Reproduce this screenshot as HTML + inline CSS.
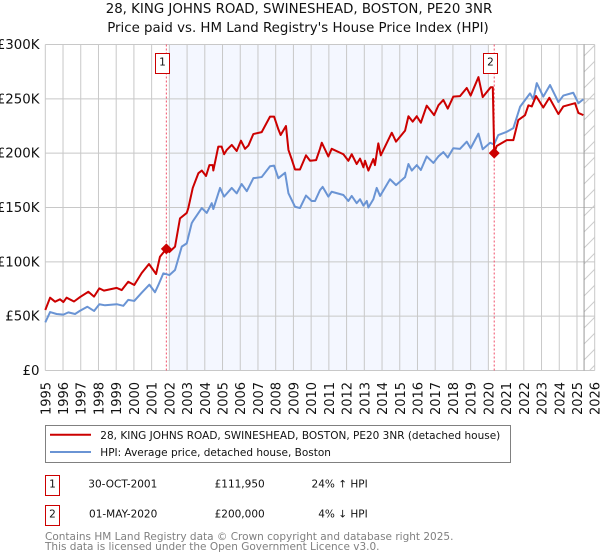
<!DOCTYPE html>
<html>
<head>
<meta charset="utf-8">
<title>House price chart</title>
<style>
html,body{margin:0;padding:0;background:#fff;}
svg{display:block;font-family:"DejaVu Sans","Liberation Sans",sans-serif;}
</style>
</head>
<body>
<svg id="chart" xmlns="http://www.w3.org/2000/svg" width="600" height="560" viewBox="0 0 600 560">
<defs>
<pattern id="hatch" patternUnits="userSpaceOnUse" width="16" height="16">
<path d="M-2 18 L18 -2 M-2 2 L2 -2 M14 18 L18 14" stroke="#cccccc" stroke-width="1" fill="none"/>
</pattern>
</defs>
<text x="299" y="13" text-anchor="middle" font-size="13.35" fill="#111">28, KING JOHNS ROAD, SWINESHEAD, BOSTON, PE20 3NR</text>
<text x="298" y="32" text-anchor="middle" font-size="13.35" fill="#111">Price paid vs. HM Land Registry's House Price Index (HPI)</text>
<g id="plot-layer"></g>
<g>
<rect x="45.5" y="425.5" width="465" height="37" fill="#fff" stroke="#808080" stroke-width="1"/>
<line x1="50" x2="91" y1="434.7" y2="434.7" stroke="#cc0000" stroke-width="2"/>
<text x="100.3" y="439" font-size="10.5" fill="#111">28, KING JOHNS ROAD, SWINESHEAD, BOSTON, PE20 3NR (detached house)</text>
<line x1="50" x2="91" y1="452" y2="452" stroke="#6a94d4" stroke-width="2"/>
<text x="100.3" y="456" font-size="10.5" fill="#111">HPI: Average price, detached house, Boston</text>
</g>
<g font-size="10.5" fill="#111">
<rect x="45.5" y="475.5" width="14" height="20" fill="#fff" stroke="#cc0000" stroke-width="1"/>
<text x="52.5" y="487.3" text-anchor="middle">1</text>
<text x="157.3" y="487.3" text-anchor="end">30-OCT-2001</text>
<text x="264.7" y="487.3" text-anchor="end">£111,950</text>
<text x="367.7" y="487.3" text-anchor="end">24% ↑ HPI</text>
<rect x="45.5" y="505.5" width="14" height="20" fill="#fff" stroke="#cc0000" stroke-width="1"/>
<text x="52.5" y="517.3" text-anchor="middle">2</text>
<text x="157.3" y="517.3" text-anchor="end">01-MAY-2020</text>
<text x="264.7" y="517.3" text-anchor="end">£200,000</text>
<text x="367.7" y="517.3" text-anchor="end">4% ↓ HPI</text>
</g>
<text x="45" y="540" font-size="10.5" fill="#808080">Contains HM Land Registry data © Crown copyright and database right 2025.</text>
<text x="45" y="550" font-size="10.5" fill="#808080">This data is licensed under the Open Government Licence v3.0.</text>
</svg>
<script>
const yearTicks = [1995,1996,1997,1998,1999,2000,2001,2002,2003,2004,2005,2006,2007,2008,2009,2010,2011,2012,2013,2014,2015,2016,2017,2018,2019,2020,2021,2022,2023,2024,2025,2026];
const valueTicks = [0,50,100,150,200,250,300];
const valueTickLabels = ['£0','£50K','£100K','£150K','£200K','£250K','£300K'];
const saleYears = [2001.83,2020.33];
const saleValues = [111.95,200];
const saleLabels = ['1','2'];
const shadedSpan = [2002,2020];
const dataEndYear = 2025.4;
const hpiYears = [1995,1995.27,1995.64,1996.02,1996.3,1996.68,1996.96,1997.37,1997.75,1998.05,1998.37,1999.03,1999.4,1999.68,2000.02,2000.44,2000.87,2001.19,2001.38,2001.66,2002,2002.32,2002.7,2002.98,2003.26,2003.35,2003.83,2004.11,2004.39,2004.48,2004.86,2005.09,2005.52,2005.8,2006.08,2006.37,2006.74,2007.21,2007.68,2007.91,2008.15,2008.53,2008.72,2009.09,2009.37,2009.71,2010.03,2010.22,2010.5,2010.65,2010.97,2011.16,2011.82,2012.1,2012.29,2012.57,2012.76,2012.95,2013.14,2013.23,2013.51,2013.7,2013.89,2014.45,2014.79,2015.3,2015.49,2015.68,2015.96,2016.19,2016.52,2016.9,2017.18,2017.46,2017.71,2018.02,2018.4,2018.78,2019,2019.44,2019.68,2020.1,2020.32,2020.56,2021.04,2021.41,2021.79,2022.35,2022.54,2022.73,2023.1,2023.48,2023.95,2024.23,2024.79,2025.08,2025.36];
const hpiValues = [44.3,53.8,52,51.4,53.5,52,55,58.7,54.8,61,60,61,59.5,65,64,71.6,79,72,78.7,89.4,87.8,92.5,114,117,135.5,138,149.5,145,154,148.6,168,160,168,163,171.6,165,177,178,188,188.5,177,182,163,150.7,149.5,161,156,156,166,169,160,164.5,161.5,156,160.6,154,157.6,151.7,156,150,157.6,168,160.6,176,170.6,178,190,184,189,184.5,197,191,197,201,196,204.5,204,210.6,204.5,218,203.6,209.6,208,216.7,219.7,223,242.7,255,249.6,264.5,252,262.7,247,253,255.6,246,249.6];
const priceYears = [1995,1995.27,1995.55,1995.83,1996.02,1996.2,1996.62,1996.96,1997.43,1997.75,1998.05,1998.31,1999.03,1999.31,1999.68,2000.02,2000.44,2000.85,2001.25,2001.47,2001.83,2002,2002.32,2002.6,2002.98,2003.07,2003.32,2003.64,2003.83,2004.07,2004.26,2004.45,2004.48,2004.76,2004.95,2005.09,2005.24,2005.52,2005.8,2006.04,2006.27,2006.46,2006.74,2007.21,2007.68,2007.91,2008.15,2008.28,2008.58,2008.72,2008.9,2009.09,2009.37,2009.71,2009.94,2010.28,2010.5,2010.6,2010.97,2011.16,2011.82,2012.1,2012.29,2012.57,2012.76,2012.95,2013.04,2013.23,2013.51,2013.6,2013.79,2013.93,2014.55,2014.79,2015.3,2015.49,2015.73,2015.96,2016.19,2016.52,2016.94,2017.18,2017.46,2017.71,2018.02,2018.4,2018.78,2019,2019.44,2019.68,2020.13,2020.25,2020.33,2020.47,2021.04,2021.41,2021.69,2022.07,2022.26,2022.45,2022.69,2023.1,2023.44,2023.95,2024.23,2024.89,2025.08,2025.36];
const priceValues = [55.7,67,63.3,65.5,63,67,63.5,67.6,72.5,68,75.6,73.5,76,74,81.7,78.7,89.7,98,88.8,104.7,111.95,109,114,140,145,149.5,168,181.6,184,179,189,189,184,206,206,199,203,207.6,202,211.5,204,207,217.6,219.4,233.6,233.6,222,216.7,225,203,194.6,185,185,198,193,193.6,204,209.6,197,204,199,193,199,190,195,187,193,184,194.6,189,209,198,218.8,210.6,220.7,234,229,234,228,243.7,235,244,249,241,252,252.5,260,253,270,251.6,260.6,260.6,200,206.6,212,212,230.5,235,244,243,252.6,242,251,236,243,246,237,235];

const NS = 'http://www.w3.org/2000/svg';
const plotLayer = document.getElementById('plot-layer');
const plotLeft = 45.3, plotRight = 594.7, plotTop = 44.5, plotBottom = 370.5;
function xAxis(year){ return plotLeft + (year - 1995) / 31 * (plotRight - plotLeft); }
function yAxis(value){ return plotBottom - value / 300 * (plotBottom - plotTop); }
function make(tag, attrs){
  const el = document.createElementNS(NS, tag);
  for (const k in attrs) el.setAttribute(k, attrs[k]);
  plotLayer.appendChild(el);
  return el;
}
function linePath(xs, ys){
  return xs.map((v, i) => (i ? 'L' : 'M') + xAxis(v).toFixed(2) + ' ' + yAxis(ys[i]).toFixed(2)).join(' ');
}

const shade = make('rect', {x: xAxis(shadedSpan[0]), y: plotTop, width: xAxis(shadedSpan[1]) - xAxis(shadedSpan[0]), height: plotBottom - plotTop, fill: '#f4f7ff'});



const hatch = make('rect', {x: xAxis(dataEndYear), y: plotTop, width: plotRight - xAxis(dataEndYear), height: plotBottom - plotTop, fill: 'url(#hatch)'});



yearTicks.forEach(function(year){
  const g = make('line', {x1: xAxis(year), x2: xAxis(year), y1: plotTop, y2: plotBottom, stroke: '#c8c8c8', 'stroke-width': 1});
  
  
  const px = xAxis(year) + 5;
  const t = make('text', {x: px, y: 415, 'font-size': 13, fill: '#111', transform: 'rotate(-90 ' + px + ' 415)'});
  
  
  t.textContent = year;
});
valueTicks.forEach(function(value, i){
  const g = make('line', {x1: plotLeft, x2: plotRight, y1: yAxis(value), y2: yAxis(value), stroke: '#c8c8c8', 'stroke-width': 1});
  
  
  const t = make('text', {x: 39.5, y: yAxis(value) + 4.5, 'font-size': 13.35, fill: '#111', 'text-anchor': 'end'});
  
  
  t.textContent = valueTickLabels[i];
});

const endLine = make('line', {x1: xAxis(dataEndYear), x2: xAxis(dataEndYear), y1: plotTop, y2: plotBottom, stroke: '#999999', 'stroke-width': 1});



saleYears.forEach(function(year){
  const d = make('line', {x1: xAxis(year), x2: xAxis(year), y1: plotTop, y2: plotBottom, stroke: '#f0506a', 'stroke-width': 1, 'stroke-dasharray': '2 2'});
  
  
});

const hpiLine = make('path', {d: linePath(hpiYears, hpiValues), fill: 'none', stroke: '#6a94d4', 'stroke-width': 2, 'stroke-linejoin': 'round'});


const priceLine = make('path', {d: linePath(priceYears, priceValues), fill: 'none', stroke: '#cc0000', 'stroke-width': 2, 'stroke-linejoin': 'round'});



saleYears.forEach(function(year, i){
  const cx = xAxis(year), cy = yAxis(saleValues[i]);
  const m = make('path', {d: 'M' + cx + ' ' + (cy - 5.5) + ' L' + (cx + 5.5) + ' ' + cy + ' L' + cx + ' ' + (cy + 5.5) + ' L' + (cx - 5.5) + ' ' + cy + ' Z', fill: '#cc0000'});
  
  
  const b = make('rect', {x: Math.round(cx) - 10.5, y: 53.5, width: 14, height: 20, fill: '#fff', stroke: '#cc0000', 'stroke-width': 1});
  
  
  const t = make('text', {x: Math.round(cx) - 3.5, y: 65.5, 'font-size': 10.5, fill: '#111', 'text-anchor': 'middle'});
  
  
  t.textContent = saleLabels[i];
});
</script>
</body>
</html>
